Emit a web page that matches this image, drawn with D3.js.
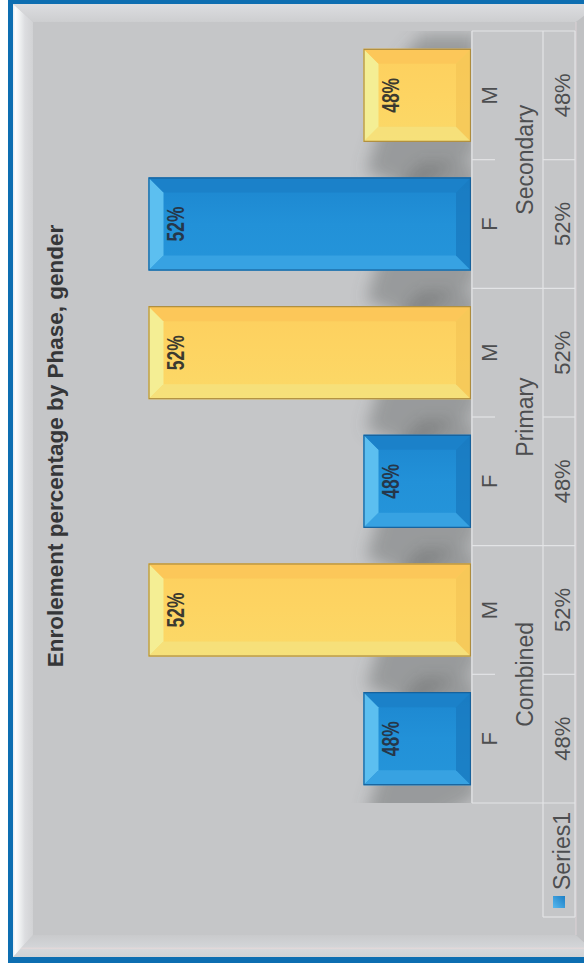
<!DOCTYPE html>
<html>
<head>
<meta charset="utf-8">
<script src="https://cdn.jsdelivr.net/npm/d3@7"></script>
<style>
  html, body { margin: 0; padding: 0; background: #fff; }
  svg { display: block; }
</style>
</head>
<body>
<script>
// ---- data ----
const phases = ["Combined", "Primary", "Secondary"];
const genders = ["F", "M"];
const values = [48, 52, 48, 52, 52, 48];          // phase × gender, in order
const valueLabels = ["48%", "52%", "48%", "52%", "52%", "48%"];
const genderColors = ["blue", "yellow"];
const seriesName = "Series1";
const chartTitle = "Enrolement percentage by Phase, gender";
const valueDomain = [46, 53];

const rows = [];
phases.forEach((p, i) => genders.forEach((g, j) => {
  const k = i * genders.length + j;
  rows.push({ idx: k, phase: p, gender: g, value: values[k], label: valueLabels[k], tone: genderColors[j] });
}));

// ---- page ----
const W = 584, H = 968;          // page size
const svg = d3.select("body").append("svg").attr("width", W).attr("height", H);
const defs = svg.append("defs");

// gradients
function lin(id, x1, y1, x2, y2, stops) {
  const g = defs.append("linearGradient").attr("id", id)
    .attr("x1", x1).attr("y1", y1).attr("x2", x2).attr("y2", y2);
  stops.forEach(s => g.append("stop").attr("offset", s[0]).attr("stop-color", s[1]));
}
lin("bevelLeft", 0, 0, 1, 0, [[0, "#e6edf2"], [0.12, "#fbfcfd"], [0.35, "#eef0f1"], [0.6, "#dcdde0"], [1, "#d1d2d4"]]);
lin("bevelTop", 0, 0, 0, 1, [[0, "#dcdde0"], [1, "#cdced0"]]);
lin("bevelBottom", 0, 0, 0, 1, [[0, "#c9cacc"], [0.55, "#d3d5d8"], [0.6, "#e6d9d9"], [0.65, "#d5d7da"], [1, "#cfd2d5"]]);
lin("blueFace", 0, 0, 1, 0, [[0, "#2595da"], [0.5, "#2291d8"], [1, "#1c86cf"]]);
lin("yellowFace", 0, 0, 1, 0, [[0, "#fbd968"], [0.5, "#fdd462"], [1, "#fdcf5e"]]);
lin("keyBlue", 0, 0, 1, 1, [[0, "#58b8ee"], [1, "#1c7fc6"]]);

const blur = defs.append("filter").attr("id", "shadowBlur")
  .attr("x", "-50%").attr("y", "-50%").attr("width", "200%").attr("height", "200%");
blur.append("feGaussianBlur").attr("stdDeviation", 8);

// ---- frame (screen coordinates) ----
svg.append("rect").attr("x", 8).attr("y", -10).attr("width", 620).attr("height", 973).attr("fill", "#0d6eb1");
svg.append("rect").attr("x", 13).attr("y", 4).attr("width", 620).attr("height", 953).attr("fill", "#c5c6c8");
svg.append("polygon").attr("points", "13,4 600,4 576,22 33,22").attr("fill", "url(#bevelTop)");
svg.append("polygon").attr("points", "13,957 33,935 576,935 600,957").attr("fill", "url(#bevelBottom)");
svg.append("polygon").attr("points", "576,22 600,4 600,957 576,935").attr("fill", "#c0c1c3");
svg.append("polygon").attr("points", "13,4 33,22 33,935 13,957").attr("fill", "url(#bevelLeft)");
svg.append("line").attr("x1", 576).attr("x2", 576).attr("y1", 22).attr("y2", 935)
  .attr("stroke", "#dcd2d6").attr("stroke-width", 1);

// ---- chart group, turned so the category axis runs bottom→top ----
const g = svg.append("g").attr("transform", `translate(0,${H}) rotate(-90)`);

const plotLeft = 165, plotRight = 937;
const base = 471, tableTop = 472, groupLine = 543, tableBottom = 575;

const x = d3.scaleBand().domain(rows.map(d => d.idx)).range([plotLeft, plotRight])
  .paddingInner(0.277).paddingOuter(0.1385);
const y = d3.scaleLinear().domain(valueDomain).range([base, 94.75]);
const step = x.step();

// bar shadows, kept inside the plot area
defs.append("clipPath").attr("id", "plotClip")
  .append("rect").attr("x", plotLeft).attr("y", 60).attr("width", plotRight - plotLeft).attr("height", base - 60);
g.append("g").attr("clip-path", "url(#plotClip)")
  .append("g").attr("filter", "url(#shadowBlur)")
  .selectAll("polygon").data(rows).join("polygon")
  .attr("points", d => {
    const x0 = x(d.idx), x1 = x0 + x.bandwidth();
    return [[x0 - 12, base + 6], [x1 + 14, base + 6], [x1 + 14, base - 50], [x1 - 10, base - 70],
            [x0 - 30, base - 105], [x0 - 48, base - 60]].map(p => p.join(",")).join(" ");
  })
  .attr("fill", "#5b5c5e")
  .attr("opacity", 0.42);

// bevelled bars
const tones = {
  blue:   { face: "url(#blueFace)", top: "#5cbff0", left: "#3ba4e3", right: "#1b80c8", bottom: "#1877be", stroke: "#17619b" },
  yellow: { face: "url(#yellowFace)", top: "#f4ee94", left: "#f5e27e", right: "#fbc558", bottom: "#f4c556", stroke: "#ad8c3f" }
};
const bev = 15;
const bars = g.append("g").selectAll("g").data(rows).join("g");
bars.each(function (d) {
  const b = d3.select(this);
  const x0 = x(d.idx), x1 = x0 + x.bandwidth();
  const y0 = y(d.value), y1 = base;
  const t = tones[d.tone];
  const ix0 = x0 + bev, ix1 = x1 - bev, iy0 = y0 + bev, iy1 = y1 - bev;
  b.append("rect").attr("x", x0).attr("y", y0).attr("width", x1 - x0).attr("height", y1 - y0).attr("fill", t.face);
  b.append("polygon").attr("points", `${x0},${y0} ${x1},${y0} ${ix1},${iy0} ${ix0},${iy0}`).attr("fill", t.top);
  b.append("polygon").attr("points", `${x0},${y0} ${ix0},${iy0} ${ix0},${iy1} ${x0},${y1}`).attr("fill", t.left).attr("opacity", 0.85);
  b.append("polygon").attr("points", `${x1},${y0} ${x1},${y1} ${ix1},${iy1} ${ix1},${iy0}`).attr("fill", t.right).attr("opacity", 0.85);
  b.append("polygon").attr("points", `${x0},${y1} ${ix0},${iy1} ${ix1},${iy1} ${x1},${y1}`).attr("fill", t.bottom).attr("opacity", 0.7);
  b.append("rect").attr("x", x0 + 0.5).attr("y", y0 + 0.5).attr("width", x1 - x0 - 1).attr("height", y1 - y0 - 1)
    .attr("fill", "none").attr("stroke", t.stroke).attr("stroke-width", 1.2);
});

// value labels inside bars (condensed)
g.append("g").selectAll("text").data(rows).join("text")
  .attr("transform", d => `translate(${x(d.idx) + x.bandwidth() / 2},${y(d.value) + 35}) scale(0.76,1)`)
  .attr("text-anchor", "middle")
  .attr("font-family", "'Liberation Sans', Arial, sans-serif")
  .attr("font-weight", "bold")
  .attr("font-size", 23)
  .attr("fill", d => d.tone === "blue" ? "#26374a" : "#3b3a30")
  .text(d => d.label);

// ---- data table ----
const grid = g.append("g").attr("stroke", "#e3e4e6").attr("stroke-width", 1.2);
grid.append("line").attr("x1", plotLeft).attr("x2", plotRight).attr("y1", tableTop).attr("y2", tableTop);
grid.append("line").attr("x1", 51).attr("x2", plotRight).attr("y1", groupLine).attr("y2", groupLine);
grid.append("line").attr("x1", 51).attr("x2", plotRight).attr("y1", tableBottom).attr("y2", tableBottom);
grid.append("line").attr("x1", 51).attr("x2", 51).attr("y1", groupLine).attr("y2", tableBottom);
d3.range(rows.length + 1).forEach(k => {
  const xx = plotLeft + k * step;
  if (k % genders.length === 0) {
    grid.append("line").attr("x1", xx).attr("x2", xx).attr("y1", tableTop).attr("y2", tableBottom);
  } else {
    grid.append("line").attr("x1", xx).attr("x2", xx).attr("y1", tableTop).attr("y2", 495);
    grid.append("line").attr("x1", xx).attr("x2", xx).attr("y1", groupLine).attr("y2", tableBottom);
  }
});

const axisFont = "'Liberation Sans', Arial, sans-serif";
const axisText = "#4d4e50";

// gender row
g.append("g").selectAll("text").data(rows).join("text")
  .attr("x", d => x(d.idx) + x.bandwidth() / 2).attr("y", 497)
  .attr("text-anchor", "middle").attr("font-family", axisFont).attr("font-size", 22).attr("fill", axisText)
  .text(d => d.gender);

// phase row
g.append("g").selectAll("text").data(phases).join("text")
  .attr("x", (p, i) => plotLeft + (i * genders.length + genders.length / 2) * step).attr("y", 533)
  .attr("text-anchor", "middle").attr("font-family", axisFont).attr("font-size", 23).attr("fill", axisText)
  .text(p => p);

// values row
g.append("g").selectAll("text").data(rows).join("text")
  .attr("x", d => x(d.idx) + x.bandwidth() / 2).attr("y", 570)
  .attr("text-anchor", "middle").attr("font-family", axisFont).attr("font-size", 22).attr("fill", axisText)
  .text(d => d.label);

// legend key
g.append("rect").attr("x", 60).attr("y", 553).attr("width", 12).attr("height", 12).attr("fill", "url(#keyBlue)");
g.append("text").attr("x", 78).attr("y", 570).attr("font-family", axisFont).attr("font-size", 23)
  .attr("fill", axisText).text(seriesName);

// title
g.append("text").attr("x", 522).attr("y", 63).attr("text-anchor", "middle")
  .attr("font-family", axisFont).attr("font-weight", "bold").attr("font-size", 22.5).attr("fill", "#353638")
  .text(chartTitle);
</script>
</body>
</html>
